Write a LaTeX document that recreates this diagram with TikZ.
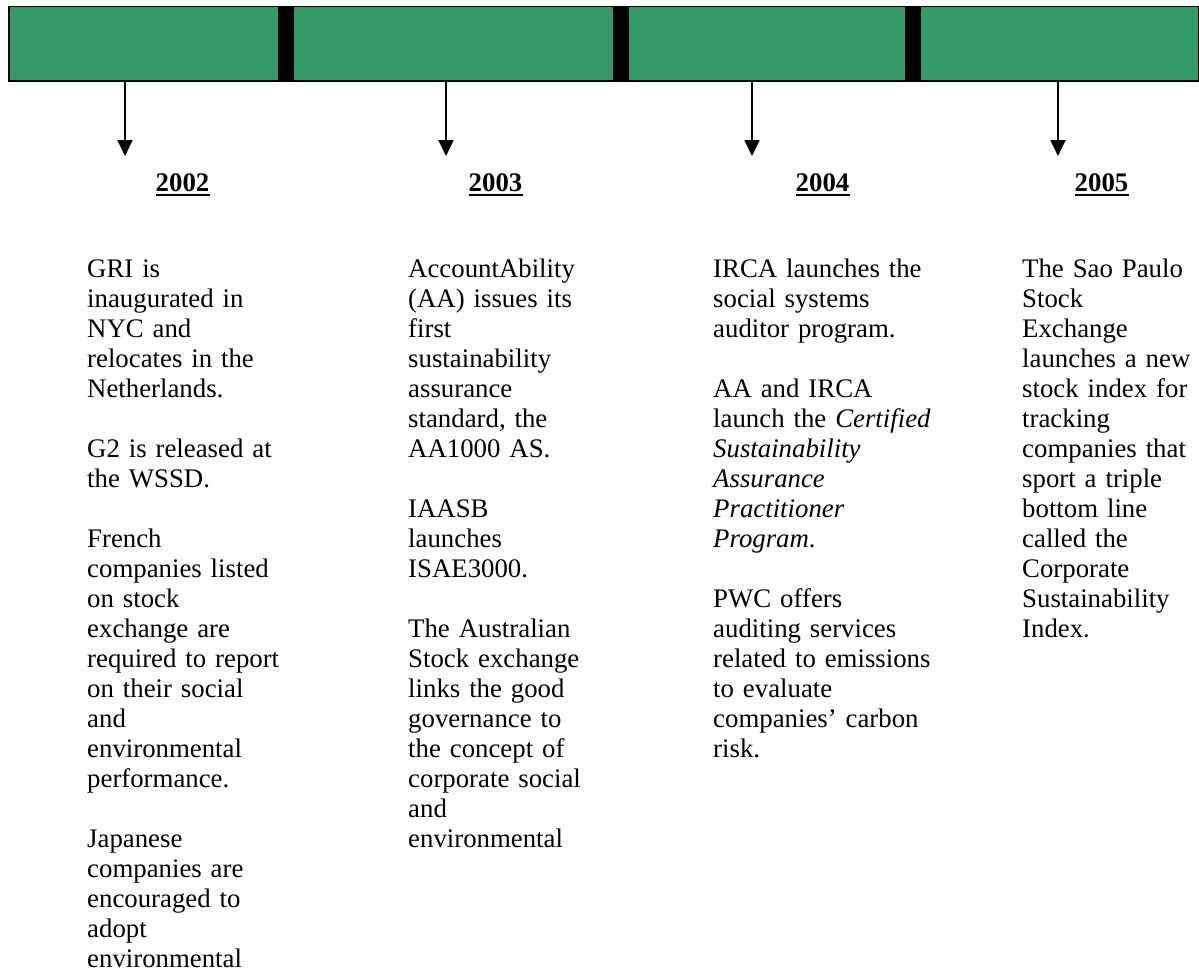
\documentclass[tikz,border=0pt]{standalone}
\usepackage{fontspec}
\setmainfont{Liberation Serif}
\usetikzlibrary{arrows.meta}
\definecolor{barGreen}{RGB}{51,153,102}
\begin{document}
\begin{tikzpicture}[x=1pt,y=-1pt,
  body/.style={anchor=north west, inner sep=0pt, align=left, text width=230pt,
    font=\fontsize{26.8}{30}\selectfont},
  year/.style={anchor=base, inner sep=0pt, font=\fontsize{26.8}{30}\selectfont\bfseries},
  yearline/.style={line width=1.8pt},
  tick/.style={line width=2pt, -{Triangle[width=15pt,length=16pt]}},
  sepbar/.style={fill=black}]
\useasboundingbox (0,0) rectangle (1199,974);
% timeline bar
\node[draw=black, line width=1.5pt, fill=barGreen, minimum width=1190pt, minimum height=74pt,
  anchor=north west, inner sep=0pt] (bar) at (8,6) {};
\fill[sepbar] (278,6) rectangle (294,80);
\fill[sepbar] (613,6) rectangle (629,80);
\fill[sepbar] (905,6) rectangle (921,80);
% arrows
\coordinate (s1) at (125,80);  \coordinate (e1) at (125,156);
\coordinate (s2) at (446,80);  \coordinate (e2) at (446,156);
\coordinate (s3) at (752,80);  \coordinate (e3) at (752,156);
\coordinate (s4) at (1058,80); \coordinate (e4) at (1058,156);
\draw[tick] (s1) -- (e1);
\draw[tick] (s2) -- (e2);
\draw[tick] (s3) -- (e3);
\draw[tick] (s4) -- (e4);
% years
\node[year] (y1) at (182.5,191) {2002};
\node[year] (y2) at (495.5,191) {2003};
\node[year] (y3) at (822.5,191) {2004};
\node[year] (y4) at (1101.5,191) {2005};
\draw[yearline] ([yshift=-3.5pt]y1.south west) -- ([yshift=-3.5pt]y1.south east);
\draw[yearline] ([yshift=-3.5pt]y2.south west) -- ([yshift=-3.5pt]y2.south east);
\draw[yearline] ([yshift=-3.5pt]y3.south west) -- ([yshift=-3.5pt]y3.south east);
\draw[yearline] ([yshift=-3.5pt]y4.south west) -- ([yshift=-3.5pt]y4.south east);
% texts
\node[body] (t1) at (87,256) {\strut GRI is\\
inaugurated in\\
NYC and\\
relocates in the\\
Netherlands.\\[30pt]
G2 is released at\\
the WSSD.\\[30pt]
French\\
companies listed\\
on stock\\
exchange are\\
required to report\\
on their social\\
and\\
environmental\\
performance.\\[30pt]
Japanese\\
companies are\\
encouraged to\\
adopt\\
environmental};
\node[body] (t2) at (408,256) {\strut AccountAbility\\
(AA) issues its\\
first\\
sustainability\\
assurance\\
standard, the\\
AA1000 AS.\\[30pt]
IAASB\\
launches\\
ISAE3000.\\[30pt]
The Australian\\
Stock exchange\\
links the good\\
governance to\\
the concept of\\
corporate social\\
and\\
environmental};
\node[body] (t3) at (713,256) {\strut IRCA launches the\\
social systems\\
auditor program.\\[30pt]
AA and IRCA\\
launch the \textit{Certified}\\
\textit{Sustainability}\\
\textit{Assurance}\\
\textit{Practitioner}\\
\textit{Program}.\\[30pt]
PWC offers\\
auditing services\\
related to emissions\\
to evaluate\\
companies’ carbon\\
risk.};
\node[body] (t4) at (1022,256) {\strut The Sao Paulo\\
Stock\\
Exchange\\
launches a new\\
stock index for\\
tracking\\
companies that\\
sport a triple\\
bottom line\\
called the\\
Corporate\\
Sustainability\\
Index.};
\end{tikzpicture}
\end{document}
